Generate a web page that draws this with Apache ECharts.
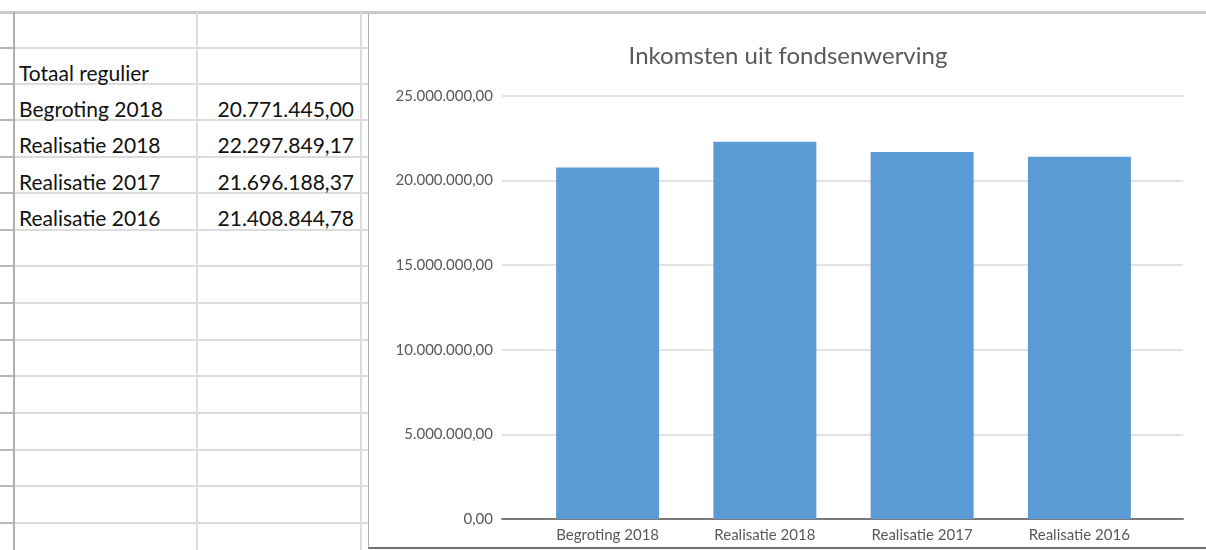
<!DOCTYPE html>
<html>
<head>
<meta charset="utf-8">
<script src="https://cdn.jsdelivr.net/npm/echarts@6/dist/echarts.min.js"></script>
<style>
  html, body { margin: 0; padding: 0; width: 1206px; height: 550px; background: #fff; overflow: hidden; font-family: Lato, "Open Sans", sans-serif; }
  #sheet { position: absolute; left: 0; top: 0; width: 1206px; height: 550px; }
  .hl { position: absolute; height: 2px; background: #dcdcdc; }
  .vl { position: absolute; width: 2px; background: #dcdcdc; }
  .cell { position: absolute; font-size: 21px; color: #111; line-height: 36px; white-space: nowrap; }
  #chart { position: absolute; left: 368px; top: 14px; width: 838px; height: 533px; border-left: 1px solid #b0b0b0; border-bottom: 2px solid #707070; background: #fff; }
</style>
</head>
<body>
<div id="sheet"></div>
<div id="chart"></div>
<script>
const tableHeader = "Totaal regulier";
const categories = ["Begroting 2018", "Realisatie 2018", "Realisatie 2017", "Realisatie 2016"];
const values = [20771445.00, 22297849.17, 21696188.37, 21408844.78];
const chartTitle = "Inkomsten uit fondsenwerving";
const yTicks = [0, 5000000, 10000000, 15000000, 20000000, 25000000];

function fmtNL(v) {
  const parts = v.toFixed(2).split(".");
  const intPart = parts[0].replace(/\B(?=(\d{3})+(?!\d))/g, ".");
  return intPart + "," + parts[1];
}

// spreadsheet grid
const sheet = document.getElementById("sheet");
const rowLines = [11, 47, 83, 119, 156, 192, 229, 265, 302, 339, 375, 412, 449, 485, 522];
rowLines.forEach(function (y, i) {
  const d = document.createElement("div");
  d.className = "hl";
  d.style.left = (i === 0 ? "0px" : "13px");
  d.style.top = y + "px";
  d.style.width = (i === 0 ? "1206px" : "355px");
  if (i === 0) { d.style.background = "#c8c8c8"; d.style.height = "3px"; }
  sheet.appendChild(d);
  if (i > 0) {
    const t = document.createElement("div");
    t.className = "hl";
    t.style.left = "0px"; t.style.top = y + "px"; t.style.width = "13px"; t.style.background = "#b8b8b8";
    sheet.appendChild(t);
  }
});
[[13, "#b0b0b0"], [196, "#dcdcdc"], [360, "#dcdcdc"]].forEach(function (c) {
  const d = document.createElement("div");
  d.className = "vl";
  d.style.left = c[0] + "px"; d.style.top = "12px"; d.style.height = "538px"; d.style.background = c[1];
  sheet.appendChild(d);
});
function addCell(text, x, rowIdx, align) {
  const d = document.createElement("div");
  d.className = "cell";
  d.textContent = text;
  d.style.top = (rowLines[rowIdx] + 8) + "px";
  if (align === "right") { d.style.right = (1206 - x) + "px"; } else { d.style.left = x + "px"; }
  sheet.appendChild(d);
}
addCell(tableHeader, 19, 1, "left");
categories.forEach(function (c, i) {
  addCell(c, 19, i + 2, "left");
  addCell(fmtNL(values[i]), 354, i + 2, "right");
});

// chart
const chart = echarts.init(document.getElementById("chart"), null, { renderer: "canvas" });
const yMin = yTicks[0], yMax = yTicks[yTicks.length - 1], yStep = yTicks[1] - yTicks[0];
chart.setOption({
  animation: false,
  backgroundColor: "#ffffff",
  title: {
    text: chartTitle,
    left: "center",
    top: 25,
    textStyle: { fontFamily: "Lato", fontSize: 24, fontWeight: "normal", color: "#595959" }
  },
  grid: [
    { left: 133, right: 24, top: 82, bottom: 28 },
    { left: 160, right: 49, top: 82, bottom: 28 }
  ],
  xAxis: [
    {
      type: "category", gridIndex: 0, data: categories,
      axisLine: { lineStyle: { color: "#7a7a7a", width: 2 } },
      axisTick: { show: false }, axisLabel: { show: false }
    },
    {
      type: "category", gridIndex: 1, data: categories,
      axisLine: { show: false }, axisTick: { show: false },
      axisLabel: { fontFamily: "Lato", fontSize: 15, color: "#595959", margin: 9 }
    }
  ],
  yAxis: [
    {
      type: "value", gridIndex: 0, min: yMin, max: yMax, interval: yStep,
      axisLine: { show: false }, axisTick: { show: false },
      axisLabel: { fontFamily: "Lato", fontSize: 15, color: "#595959", margin: 9, formatter: function (v) { return fmtNL(v); } },
      splitLine: { lineStyle: { color: "#e3e3e3", width: 2 } }
    },
    {
      type: "value", gridIndex: 1, min: yMin, max: yMax, interval: yStep,
      axisLine: { show: false }, axisTick: { show: false },
      axisLabel: { show: false }, splitLine: { show: false }
    }
  ],
  series: [{
    type: "bar",
    xAxisIndex: 1,
    yAxisIndex: 1,
    data: values,
    barWidth: "65.5%",
    itemStyle: { color: "#5b9bd5" }
  }]
});
</script>
</body>
</html>
